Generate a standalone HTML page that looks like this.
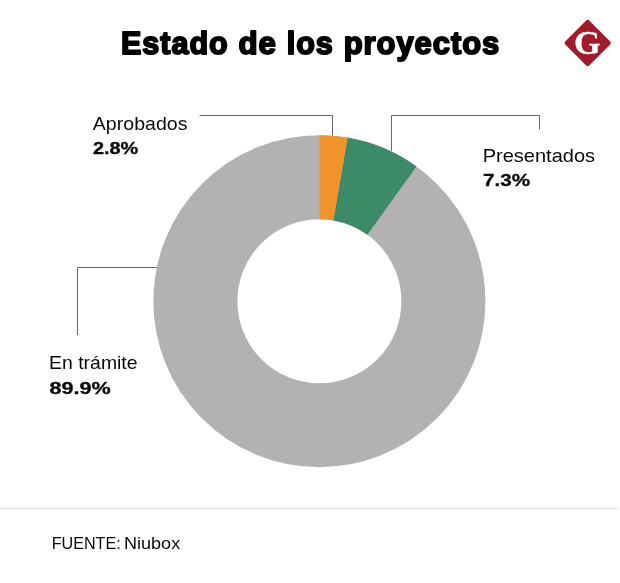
<!DOCTYPE html>
<html lang="es">
<head>
<meta charset="utf-8">
<title>Estado de los proyectos</title>
<style>
html,body{margin:0;padding:0;background:#fff;}
body{width:620px;height:583px;overflow:hidden;font-family:"Liberation Sans",sans-serif;}
svg{display:block;}
text{font-family:"Liberation Sans",sans-serif;}
</style>
</head>
<body>
<svg width="620" height="583" viewBox="0 0 620 583">
<rect width="620" height="583" fill="#fff"/>
<!-- title -->
<text id="title" y="54.3" font-size="31.5" font-weight="bold" fill="#000" stroke="#000" stroke-width="1.9" stroke-linejoin="round" letter-spacing="1.0"><tspan x="121.03" textLength="107.63" lengthAdjust="spacingAndGlyphs">Estado</tspan> <tspan x="238.40" textLength="38.44" lengthAdjust="spacingAndGlyphs">de</tspan> <tspan x="286.73" textLength="47.04" lengthAdjust="spacingAndGlyphs">los</tspan> <tspan x="343.63" textLength="156.70" lengthAdjust="spacingAndGlyphs">proyectos</tspan></text>
<!-- logo -->
<g transform="translate(587.7,43)">
<rect x="-17" y="-17" width="34" height="34" rx="2.5" fill="#a11c28" transform="rotate(45)"/>
<text x="-0.5" y="11.4" font-weight="bold" font-size="34.2" fill="#fff" stroke="#fff" stroke-width="0.3" text-anchor="middle" style="font-family:'Liberation Serif',serif">G</text>
</g>
<!-- donut -->
<circle cx="319.4" cy="301.2" r="124" fill="none" stroke="#b3b1b2" stroke-width="84"/>
<path id="green" fill="#3c8a68" d="M347.65 137.62A166.0 166.0 0 0 1 416.50 166.56L367.37 234.69A82.0 82.0 0 0 0 333.36 220.40Z"/>
<path id="orange" fill="#f0932b" d="M319.40 135.20A166.0 166.0 0 0 1 347.65 137.62L333.36 220.40A82.0 82.0 0 0 0 319.40 219.20Z"/>
<!-- leader lines -->
<g fill="none" stroke="#666" stroke-width="1">
<path d="M199.5 115.5H332.5V135.5"/>
<path d="M391.5 151V115.5H539.5V129.5"/>
<path d="M157 267.5H77.5V335"/>
</g>
<!-- labels -->
<text id="a1" font-size="18.2" fill="#0a0a0a" transform="translate(92.81,130.0) scale(1.0759,1)">Aprobados</text>
<text id="a2" font-size="17.0" font-weight="bold" stroke="#111" stroke-width="0.35" fill="#0a0a0a" transform="translate(92.91,153.6) scale(1.1712,1)">2.8%</text>
<text id="p1" font-size="18.2" fill="#0a0a0a" transform="translate(482.66,161.6) scale(1.1001,1)">Presentados</text>
<text id="p2" font-size="17.0" font-weight="bold" stroke="#111" stroke-width="0.35" fill="#0a0a0a" transform="translate(482.96,185.7) scale(1.2171,1)">7.3%</text>
<text id="t1" font-size="18.2" fill="#0a0a0a" transform="translate(49.08,369.4) scale(1.0675,1)">En trámite</text>
<text id="t2" font-size="17.0" font-weight="bold" stroke="#111" stroke-width="0.35" fill="#0a0a0a" transform="translate(49.57,393.8) scale(1.2688,1)">89.9%</text>
<text id="f1" font-size="17.2" y="548.5" fill="#0a0a0a"><tspan x="51.67" textLength="69.1" lengthAdjust="spacingAndGlyphs">FUENTE:</tspan> <tspan x="123.97" textLength="56.2" lengthAdjust="spacingAndGlyphs">Niubox</tspan></text>
<!-- footer -->
<line x1="0" y1="508.5" x2="618" y2="508.5" stroke="#ddd" stroke-width="1"/>
</svg>
</body>
</html>
